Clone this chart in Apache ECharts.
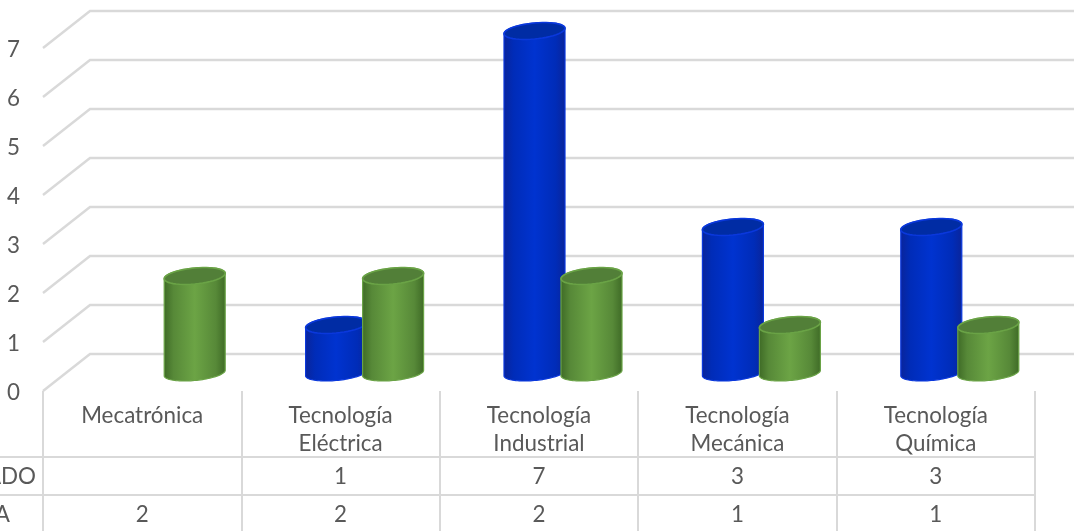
<!DOCTYPE html>
<html><head><meta charset="utf-8">
<style>html,body{margin:0;padding:0;background:#fff;overflow:hidden}#c{width:1074px;height:531px}</style>
<script src="https://cdn.jsdelivr.net/npm/echarts@6/dist/echarts.min.js"></script>
</head><body><div id="c"></div>
<script>
const categories = ['Mecatrónica','Tecnología\nEléctrica','Tecnología\nIndustrial','Tecnología\nMecánica','Tecnología\nQuímica'];
const blueName = 'ADO';
const greenName = 'A';
const blueValues = [null,1,7,3,3];
const greenValues = [2,2,2,1,1];
const yTicks = [0,1,2,3,4,5,6,7];

const FONT='Lato', FS=22.4, TXT='#595959', LINE='#d9d9d9';
const grad=(e,c)=>({type:'linear',x:0,y:0,x2:1,y2:0,colorStops:[{offset:0,color:e},{offset:.16,color:c[0]},{offset:.5,color:c[1]},{offset:.84,color:c[0]},{offset:1,color:e}]});
const STY={
 blue:{body:grad('#0a249a',['#002cb8','#0033d0']),top:'#002ca4',edge:'#0a38dc'},
 green:{body:grad('#3e6a26',['#578938','#6ca445']),top:'#527f38',edge:'#6aa346'}
};
function cylinder(sty,offsetFrac){
 return function(params,api){
  const v=api.value(1);
  if(v==null||isNaN(v))return null;
  const band=api.size([1,0])[0];
  const p=api.coord([api.value(0),v]);
  const b=api.coord([api.value(0),0]);
  const cx=p[0]+band*offsetFrac,a=30.5,bb=8,sl=-0.09;
  const pt=(cy,t,q)=>[cx+a*Math.cos(t),cy+q*Math.sin(t)+sl*a*Math.cos(t)];
  const body=[],top=[];
  const n=48;
  for(let i=0;i<=n;i++)body.push(pt(b[1]-1,Math.PI*i/n,7.5));
  for(let i=0;i<=n;i++)body.push(pt(p[1],Math.PI+Math.PI*i/n,bb));
  for(let i=0;i<n;i++)top.push(pt(p[1],2*Math.PI*i/n,bb));
  return {type:'group',children:[
   {type:'polygon',shape:{points:body},style:{fill:sty.body,stroke:sty.edge,lineWidth:1.2}},
   {type:'polygon',shape:{points:top},style:{fill:sty.top,stroke:sty.edge,lineWidth:1.6}}
  ]};
 };
}
function wallLine(params,api){
 const f=api.coord([0,api.value(1)]);
 const x0=params.coordSys.x,y0=f[1],dx=47,dy=-37;
 return {type:'polyline',shape:{points:[[x0,y0],[x0+dx,y0+dy],[api.getWidth(),y0+dy]]},style:{fill:null,stroke:LINE,lineWidth:2.4}};
}
const idx=categories.map((_,i)=>i);
const rowAxis=(vals,off)=>({type:'category',gridIndex:0,position:'bottom',offset:off,data:vals.map(v=>v==null?'':String(v)),
 axisLine:{show:false},axisTick:{show:false},splitLine:{show:false},
 axisLabel:{interval:0,margin:0,fontFamily:FONT,fontSize:FS,color:TXT,lineHeight:24}});
const hRow=y=>({type:'line',shape:{x1:0,y1:y,x2:1035,y2:y},style:{stroke:LINE,lineWidth:2},z:1});
const chart=echarts.init(document.getElementById('c'),null,{renderer:'canvas'});
chart.setOption({
 animation:false,backgroundColor:'#fff',
 grid:[{left:43,right:39,top:48,height:343},{left:43,right:39,top:31,height:343}],
 xAxis:[
  {type:'category',gridIndex:0,data:categories,
   axisLine:{show:false},axisTick:{show:true,length:140,alignWithLabel:false,lineStyle:{color:LINE,width:2}},
   axisLabel:{interval:0,margin:11,fontFamily:FONT,fontSize:FS,color:TXT,lineHeight:28},splitLine:{show:false}},
  rowAxis(blueValues,74),
  rowAxis(greenValues,112),
  {type:'category',gridIndex:1,data:categories,show:false}
 ],
 yAxis:[
  {type:'value',gridIndex:0,min:0,max:7,interval:1,axisLine:{show:false},axisTick:{show:false},splitLine:{show:false},
   axisLabel:{margin:23,formatter:'{a|{value}}',rich:{a:{fontFamily:FONT,fontSize:FS,color:TXT,padding:[4,0,0,0]}}}},
  {type:'value',gridIndex:1,min:0,max:7,interval:1,show:false,splitLine:{show:false}}
 ],
 series:[
  {type:'custom',name:'grid',xAxisIndex:0,yAxisIndex:0,silent:true,clip:false,z:1,renderItem:wallLine,data:yTicks.map(t=>[0,t])},
  {type:'custom',name:blueName,xAxisIndex:3,yAxisIndex:1,clip:false,z:3,renderItem:cylinder(STY.blue,-4.5/198.4),data:idx.map(i=>[i,blueValues[i]])},
  {type:'custom',name:greenName,xAxisIndex:3,yAxisIndex:1,clip:false,z:4,renderItem:cylinder(STY.green,52.5/198.4),data:idx.map(i=>[i,greenValues[i]])}
 ],
 graphic:[
  hRow(457),hRow(495),
  {type:'text',x:36,y:477,style:{text:blueName,align:'right',verticalAlign:'middle',font:FS+'px '+FONT,fill:TXT}},
  {type:'text',x:10,y:515,style:{text:greenName,align:'right',verticalAlign:'middle',font:FS+'px '+FONT,fill:TXT}}
 ]
});
</script></body></html>
